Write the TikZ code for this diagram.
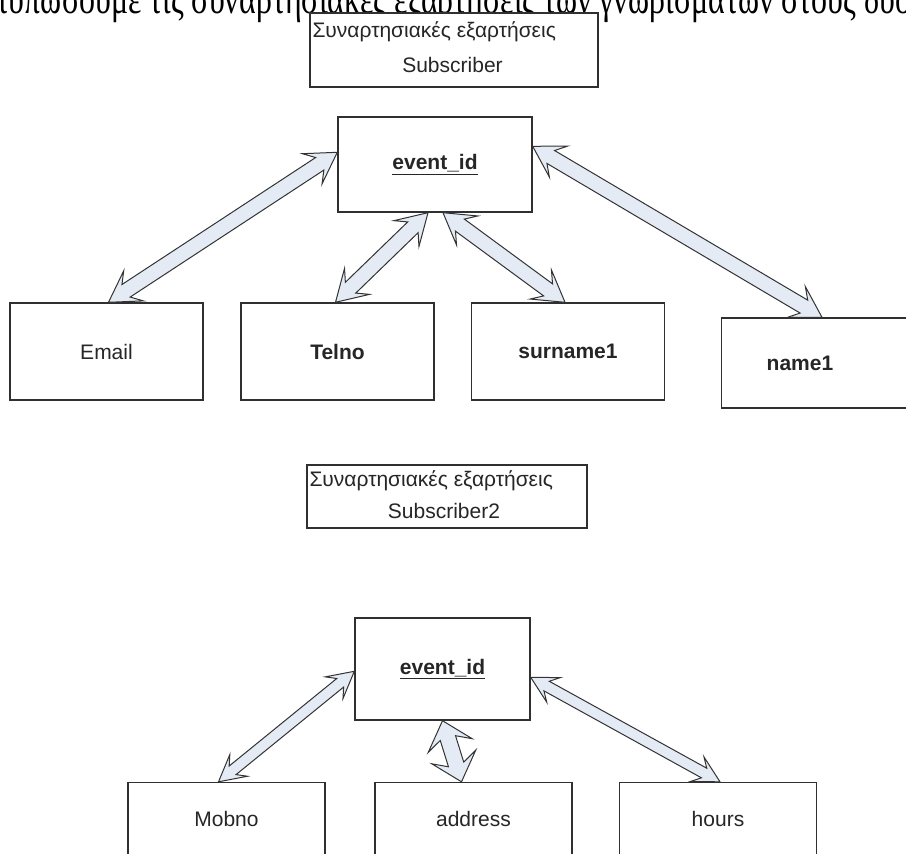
\documentclass[tikz,border=0pt]{standalone}
\usepackage{fontspec}
\setmainfont{Liberation Sans}
\newfontfamily\serifgr{Liberation Serif}
\usetikzlibrary{calc}
\definecolor{arrfill}{HTML}{E4EBF5}
\definecolor{boxline}{HTML}{303030}
% #1 from, #2 to, #3 shaft half width, #4 head half width, #5 head length
\newcommand\BlockArr[5]{%
  \draw[draw=black!80, line width=1pt, fill=arrfill, line join=miter]
    (#1)
    -- ($(#1)!#5pt!(#2)!#4pt!90:(#2)$)
    -- ($(#1)!0.7*#5pt!(#2)!#3pt!90:(#2)$)
    -- ($(#2)!0.7*#5pt!(#1)!#3pt!-90:(#1)$)
    -- ($(#2)!#5pt!(#1)!#4pt!-90:(#1)$)
    -- (#2)
    -- ($(#2)!#5pt!(#1)!#4pt!90:(#1)$)
    -- ($(#2)!0.7*#5pt!(#1)!#3pt!90:(#1)$)
    -- ($(#1)!0.7*#5pt!(#2)!#3pt!-90:(#2)$)
    -- ($(#1)!#5pt!(#2)!#4pt!-90:(#2)$)
    -- cycle;}
\begin{document}
\begin{tikzpicture}[x=1pt,y=1pt,
  box/.style={draw=boxline, line width=1.4pt, fill=white, minimum width=193pt,
    minimum height=97pt, inner sep=0pt, font=\fontsize{21}{24}\selectfont, text=black!85},
  boldbox/.style={box, font=\fontsize{21}{24}\selectfont\bfseries},
  tbox/.style={draw=boxline, line width=1.4pt, fill=white, inner sep=0pt},
  lbl/.style={font=\fontsize{21}{24}\selectfont, inner sep=0pt, text=black!85}]
\clip (0,0) rectangle (906,-854);
\useasboundingbox (0,0) rectangle (906,-854);
% cropped heading line
\node[anchor=base west, inner sep=0pt, font=\serifgr\fontsize{32}{32}\selectfont] (head) at (-53,-13)
  {\scalebox{1}[1.35]{αποτυπώσουμε τις συναρτησιακές εξαρτήσεις των γνωρισμάτων στους δύο πίνακες}};
% ---- upper diagram
\node[tbox, minimum width=288pt, minimum height=74pt] (t1) at (454,-50) {};
\node[lbl, anchor=west] (t1a) at ([xshift=3pt,yshift=-19pt]t1.north west) {Συναρτησιακές εξαρτήσεις};
\node[lbl] (t1b) at ([xshift=-1.5pt,yshift=-53pt]t1.north) {Subscriber};
\node[boldbox, minimum width=194pt, minimum height=95pt] (eid1) at (435,-164.5) {\underline{event\_id}};
\node[box] (email) at (106.5,-351.5) {Email};
\node[boldbox] (telno) at (337.5,-351.5) {Telno};
\node[boldbox] (sur) at (568,-351.5) {surname1};
\node[boldbox, minimum height=90pt] (name) at (818,-363) {\hspace*{-36pt}name1};
\coordinate (a1s) at ($(eid1.north west)+(0,-36)$);
\coordinate (a1e) at ($(email.north)+(2,0)$);
\coordinate (a2s) at ($(eid1.south)+(-7,0)$);
\coordinate (a2e) at ($(telno.north)+(-2,0)$);
\coordinate (a3s) at ($(eid1.south)+(8,0)$);
\coordinate (a3e) at ($(sur.north)+(-3,0)$);
\coordinate (a4s) at ($(eid1.north east)+(0,-30)$);
\coordinate (a4e) at ($(name.north)+(4,0)$);
\BlockArr{a1s}{a1e}{7.5}{18}{30}
\BlockArr{a2s}{a2e}{7.5}{18}{30}
\BlockArr{a3s}{a3e}{7.5}{18}{30}
\BlockArr{a4s}{a4e}{7.5}{18}{30}
% ---- lower diagram
\node[tbox, minimum width=280pt, minimum height=63pt] (t2) at (447,-496.5) {};
\node[lbl, anchor=west] (t2a) at ([xshift=3pt,yshift=-16pt]t2.north west) {Συναρτησιακές εξαρτήσεις};
\node[lbl] (t2b) at ([xshift=-3pt,yshift=-47pt]t2.north) {Subscriber2};
\node[boldbox, minimum width=175pt, minimum height=102pt] (eid2) at (442.5,-669) {\underline{event\_id}};
\node[box, minimum width=197pt] (mob) at (226.5,-831) {\raisebox{25pt}{Mobno}};
\node[box, minimum width=197pt] (addr) at (473.5,-831) {\raisebox{25pt}{address}};
\node[box, minimum width=197pt] (hours) at (718,-831) {\raisebox{25pt}{hours}};
\coordinate (b1s) at ($(eid2.north west)+(0,-54)$);
\coordinate (b1e) at ($(mob.north)+(-8,0)$);
\coordinate (b2s) at ($(eid2.south)+(0,0)$);
\coordinate (b2e) at ($(addr.north)+(-12,0)$);
\coordinate (b3s) at ($(eid2.north east)+(0,-60)$);
\coordinate (b3e) at ($(hours.north)+(2,0)$);
\BlockArr{b1s}{b1e}{5.5}{14}{26}
\BlockArr{b2s}{b2e}{8}{23}{26}
\BlockArr{b3s}{b3e}{5.5}{14}{26}
\end{tikzpicture}
\end{document}
